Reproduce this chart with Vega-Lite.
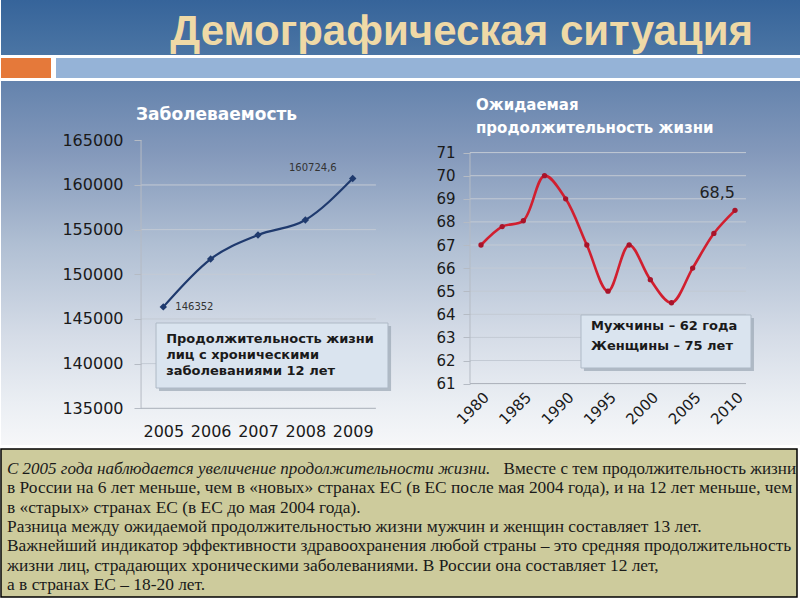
{
  "$schema": "https://vega.github.io/schema/vega-lite/v6.json",
  "background": "white",
  "padding": 0,
  "spacing": 3,
  "config": {
    "view": {"stroke": null},
    "font": "DejaVu Sans",
    "axis": {"labelOverlap": false},
    "locale": {"number": {"decimal": ",", "thousands": "\u00a0", "grouping": [3], "currency": ["", ""]}}
  },
  "datasets": {
    "incidence": [
      {"year": 2005, "value": 146352},
      {"year": 2006, "value": 151710},
      {"year": 2007, "value": 154400},
      {"year": 2008, "value": 156080},
      {"year": 2009, "value": 160724.6}
    ],
    "life": [
      {"year": 1980, "value": 67.0},
      {"year": 1982.5, "value": 67.8},
      {"year": 1985, "value": 68.05},
      {"year": 1987.5, "value": 70.0},
      {"year": 1990, "value": 69.0},
      {"year": 1992.5, "value": 67.0},
      {"year": 1995, "value": 65.0},
      {"year": 1997.5, "value": 67.0},
      {"year": 2000, "value": 65.5},
      {"year": 2002.5, "value": 64.5},
      {"year": 2005, "value": 66.0},
      {"year": 2007.5, "value": 67.5},
      {"year": 2010, "value": 68.5}
    ],
    "incidenceGrid": [{"g": 140000}, {"g": 145000}, {"g": 150000}, {"g": 155000}, {"g": 160000}],
    "lifeGrid": [{"g": 62}, {"g": 63}, {"g": 64}, {"g": 65}, {"g": 66}, {"g": 67}, {"g": 68}, {"g": 69}, {"g": 70}, {"g": 71}],
    "heading": [{"heading": "Демографическая ситуация"}],
    "titleLeft": [{"title": "Заболеваемость"}],
    "titleRight": [{"title": "Ожидаемая\nпродолжительность жизни"}],
    "noteLeft": [{"note": "Продолжительность жизни\nлиц с хроническими\nзаболеваниями 12 лет"}],
    "noteRight": [{"note": "Мужчины – 62 года\nЖенщины – 75 лет"}],
    "summary": [
      {"line": 1, "part": "lead", "text": "С 2005 года наблюдается увеличение продолжительности жизни."},
      {"line": 1, "part": "tail", "text": "Вместе с тем продолжительность жизни"},
      {"line": 2, "part": "body", "text": "в России на 6 лет меньше, чем в «новых» странах ЕС (в ЕС после мая 2004 года), и на 12 лет меньше, чем"},
      {"line": 3, "part": "body", "text": "в «старых» странах ЕС (в ЕС до мая 2004 года)."},
      {"line": 4, "part": "body", "text": "Разница между ожидаемой продолжительностью жизни мужчин и женщин составляет 13 лет."},
      {"line": 5, "part": "body", "text": "Важнейший индикатор эффективности здравоохранения любой страны – это средняя продолжительность"},
      {"line": 6, "part": "body", "text": "жизни лиц, страдающих хроническими заболеваниями. В России она составляет 12 лет,"},
      {"line": 7, "part": "body", "text": "а в странах ЕС – 18-20 лет."}
    ]
  },
  "vconcat": [
    {
      "width": 800,
      "height": 55,
      "view": {"fill": {"gradient": "linear", "x1": 0, "y1": 0, "x2": 0, "y2": 1, "stops": [{"offset": 0, "color": "#36649A"}, {"offset": 1, "color": "#4B75A4"}]}},
      "data": {"name": "heading"},
      "mark": {"type": "text", "align": "right", "baseline": "alphabetic", "dx": -48, "dy": 17, "fontSize": 42, "font": "Liberation Sans", "fontWeight": "bold", "color": "#EFD9A6"},
      "encoding": {
        "x": {"value": "width"},
        "text": {"field": "heading", "type": "nominal"}
      }
    },
    {
      "spacing": 5,
      "hconcat": [
        {
          "width": 50, "height": 20,
          "view": {"fill": "#E5793A"},
          "data": {"values": [{}]},
          "mark": {"type": "text", "text": ""},
          "encoding": {}
        },
        {
          "width": 745, "height": 20,
          "view": {"fill": "#95B3D7"},
          "data": {"values": [{}]},
          "mark": {"type": "text", "text": ""},
          "encoding": {}
        }
      ]
    },
    {
      "spacing": 0,
      "hconcat": [
        {
          "width": 400,
          "height": 364,
          "view": {"fill": {"gradient": "linear", "x1": 0, "y1": 0, "x2": 0, "y2": 1, "stops": [{"offset": 0, "color": "#6483AD"}, {"offset": 0.2, "color": "#8499BB"}, {"offset": 0.45, "color": "#B0BFD3"}, {"offset": 0.7, "color": "#D5DCE7"}, {"offset": 0.88, "color": "#EAEEF3"}, {"offset": 1, "color": "#F6F7F9"}]}},
          "layer": [
            {
              "data": {"name": "incidenceGrid"},
              "mark": {"type": "rule", "color": "#C3CAD4", "strokeWidth": 1},
              "encoding": {
                "y": {"field": "g", "type": "quantitative", "scale": {"domain": [130892, 171638], "nice": false, "zero": false},
                  "axis": {"values": [135000, 140000, 145000, 150000, 155000, 160000, 165000], "format": "d", "offset": -140, "domain": false, "grid": false, "tickSize": 7, "tickColor": "#B5BBC4", "labelPadding": 11, "labelFontSize": 16, "labelColor": "#1A1A1A", "labelOverlap": false, "labelFlush": false, "title": null}},
                "x": {"datum": 2004.53, "type": "quantitative", "scale": {"domain": [2001.572, 2010.02], "nice": false, "zero": false},
                  "axis": {"values": [2005, 2006, 2007, 2008, 2009], "format": "d", "offset": -36.7, "domain": false, "ticks": false, "grid": false, "labelPadding": 15, "labelFontSize": 16, "labelColor": "#1A1A1A", "labelOverlap": false, "labelFlush": false, "title": null}},
                "x2": {"datum": 2009.49}
              }
            },
            {
              "data": {"values": [{}]},
              "mark": {"type": "rule", "color": "#A9AFB8", "strokeWidth": 1},
              "encoding": {
                "y": {"datum": 135000, "type": "quantitative"},
                "x": {"datum": 2004.53, "type": "quantitative"},
                "x2": {"datum": 2009.49}
              }
            },
            {
              "data": {"values": [{}]},
              "mark": {"type": "rule", "color": "#B5BBC4", "strokeWidth": 1},
              "encoding": {
                "x": {"datum": 2004.53, "type": "quantitative"},
                "y": {"datum": 135000, "type": "quantitative"},
                "y2": {"datum": 165000}
              }
            },
            {
              "data": {"name": "titleLeft"},
              "mark": {"type": "text", "align": "left", "baseline": "middle", "fontSize": 17, "fontWeight": "bold", "color": "white"},
              "encoding": {
                "x": {"datum": 2004.423, "type": "quantitative"},
                "y": {"datum": 167832, "type": "quantitative"},
                "text": {"field": "title", "type": "nominal"}
              }
            },
            {
              "data": {"name": "noteLeft"},
              "mark": {"type": "rect", "color": "#9AA6B4", "opacity": 0.7},
              "encoding": {
                "x": {"datum": 2004.91, "type": "quantitative"},
                "x2": {"datum": 2009.81},
                "y": {"datum": 144210, "type": "quantitative"},
                "y2": {"datum": 136930}
              }
            },
            {
              "data": {"name": "noteLeft"},
              "mark": {"type": "rect", "fill": "#DAE4EF", "stroke": "#AEB9C6", "strokeWidth": 1},
              "encoding": {
                "x": {"datum": 2004.846, "type": "quantitative"},
                "x2": {"datum": 2009.745},
                "y": {"datum": 144548, "type": "quantitative"},
                "y2": {"datum": 137272}
              }
            },
            {
              "data": {"name": "noteLeft"},
              "mark": {"type": "text", "align": "left", "baseline": "top", "lineBreak": "\n", "lineHeight": 16, "fontSize": 13, "fontWeight": "bold", "color": "#1A1A1A"},
              "encoding": {
                "x": {"datum": 2005.06, "type": "quantitative"},
                "y": {"datum": 143429, "type": "quantitative"},
                "text": {"field": "note", "type": "nominal"}
              }
            },
            {
              "data": {"name": "incidence"},
              "mark": {"type": "line", "color": "#1F3A6E", "strokeWidth": 2.2, "interpolate": "monotone"},
              "encoding": {
                "x": {"field": "year", "type": "quantitative"},
                "y": {"field": "value", "type": "quantitative"}
              }
            },
            {
              "data": {"name": "incidence"},
              "mark": {"type": "point", "shape": "diamond", "filled": true, "size": 55, "color": "#1F3A6E", "opacity": 1},
              "encoding": {
                "x": {"field": "year", "type": "quantitative"},
                "y": {"field": "value", "type": "quantitative"}
              }
            },
            {
              "data": {"name": "incidence"},
              "transform": [{"filter": "datum.year == 2005"}],
              "mark": {"type": "text", "align": "left", "baseline": "middle", "dx": 12, "fontSize": 10, "color": "#333333"},
              "encoding": {
                "x": {"field": "year", "type": "quantitative"},
                "y": {"field": "value", "type": "quantitative"},
                "text": {"field": "value", "type": "quantitative", "format": ".1~f"}
              }
            },
            {
              "data": {"name": "incidence"},
              "transform": [{"filter": "datum.year == 2009"}],
              "mark": {"type": "text", "align": "right", "baseline": "middle", "dx": -16, "dy": -10, "fontSize": 10, "color": "#333333"},
              "encoding": {
                "x": {"field": "year", "type": "quantitative"},
                "y": {"field": "value", "type": "quantitative"},
                "text": {"field": "value", "type": "quantitative", "format": ".1~f"}
              }
            }
          ]
        },
        {
          "width": 400,
          "height": 364,
          "view": {"fill": {"gradient": "linear", "x1": 0, "y1": 0, "x2": 0, "y2": 1, "stops": [{"offset": 0, "color": "#6483AD"}, {"offset": 0.2, "color": "#8499BB"}, {"offset": 0.45, "color": "#B0BFD3"}, {"offset": 0.7, "color": "#D5DCE7"}, {"offset": 0.88, "color": "#EAEEF3"}, {"offset": 1, "color": "#F6F7F9"}]}},
          "layer": [
            {
              "data": {"name": "lifeGrid"},
              "mark": {"type": "rule", "color": "#C3CAD4", "strokeWidth": 1},
              "encoding": {
                "y": {"field": "g", "type": "quantitative", "scale": {"domain": [58.342, 74.10], "nice": false, "zero": false},
                  "axis": {"values": [61, 62, 63, 64, 65, 66, 67, 68, 69, 70, 71], "tickCount": 11, "format": "d", "offset": -69, "domain": false, "grid": false, "tickSize": 7, "tickColor": "#B5BBC4", "labelPadding": 8, "labelFontSize": 15, "labelColor": "#1A1A1A", "labelOverlap": false, "labelFlush": false, "title": null}},
                "x": {"datum": 1978.70, "type": "quantitative", "scale": {"domain": [1970.551, 2017.795], "nice": false, "zero": false},
                  "axis": {"values": [1980, 1985, 1990, 1995, 2000, 2005, 2010], "format": "d", "offset": -61.4, "domain": false, "ticks": false, "grid": false, "labelAngle": -45, "labelPadding": 6, "labelFontSize": 15, "labelColor": "#1A1A1A", "labelOverlap": false, "labelFlush": false, "title": null}},
                "x2": {"datum": 2011.30}
              }
            },
            {
              "data": {"values": [{}]},
              "mark": {"type": "rule", "color": "#A9AFB8", "strokeWidth": 1},
              "encoding": {
                "y": {"datum": 61, "type": "quantitative"},
                "x": {"datum": 1978.70, "type": "quantitative"},
                "x2": {"datum": 2011.30}
              }
            },
            {
              "data": {"values": [{}]},
              "mark": {"type": "rule", "color": "#B5BBC4", "strokeWidth": 1},
              "encoding": {
                "x": {"datum": 1978.70, "type": "quantitative"},
                "y": {"datum": 61, "type": "quantitative"},
                "y2": {"datum": 71}
              }
            },
            {
              "data": {"name": "titleRight"},
              "mark": {"type": "text", "align": "left", "baseline": "middle", "lineBreak": "\n", "lineHeight": 23, "fontSize": 15, "fontWeight": "bold", "color": "white"},
              "encoding": {
                "x": {"datum": 1979.409, "type": "quantitative"},
                "y": {"datum": 73.061, "type": "quantitative"},
                "text": {"field": "title", "type": "nominal"}
              }
            },
            {
              "data": {"name": "noteRight"},
              "mark": {"type": "rect", "color": "#9AA6B4", "opacity": 0.7},
              "encoding": {
                "x": {"datum": 1992.16, "type": "quantitative"},
                "x2": {"datum": 2012.24},
                "y": {"datum": 63.84, "type": "quantitative"},
                "y2": {"datum": 61.546}
              }
            },
            {
              "data": {"name": "noteRight"},
              "mark": {"type": "rect", "fill": "#DAE4EF", "stroke": "#AEB9C6", "strokeWidth": 1},
              "encoding": {
                "x": {"datum": 1991.81, "type": "quantitative"},
                "x2": {"datum": 2011.89},
                "y": {"datum": 63.97, "type": "quantitative"},
                "y2": {"datum": 61.676}
              }
            },
            {
              "data": {"name": "noteRight"},
              "mark": {"type": "text", "align": "left", "baseline": "top", "lineBreak": "\n", "lineHeight": 20, "fontSize": 13, "fontWeight": "bold", "color": "#1A1A1A"},
              "encoding": {
                "x": {"datum": 1992.99, "type": "quantitative"},
                "y": {"datum": 63.754, "type": "quantitative"},
                "text": {"field": "note", "type": "nominal"}
              }
            },
            {
              "data": {"name": "life"},
              "mark": {"type": "line", "color": "#D11F2F", "strokeWidth": 2.6, "interpolate": "catmull-rom"},
              "encoding": {
                "x": {"field": "year", "type": "quantitative"},
                "y": {"field": "value", "type": "quantitative",
                  "axis": {"values": [61, 62, 63, 64, 65, 66, 67, 68, 69, 70, 71], "tickCount": 11, "format": "d", "offset": -69, "domain": false, "grid": false, "tickSize": 7, "tickColor": "#B5BBC4", "labelPadding": 8, "labelFontSize": 15, "labelColor": "#1A1A1A", "labelOverlap": false, "labelFlush": false, "title": null}}
              }
            },
            {
              "data": {"name": "life"},
              "mark": {"type": "point", "shape": "circle", "filled": true, "size": 28, "color": "#A8142A", "opacity": 1},
              "encoding": {
                "x": {"field": "year", "type": "quantitative"},
                "y": {"field": "value", "type": "quantitative"}
              }
            },
            {
              "data": {"name": "life"},
              "transform": [{"filter": "datum.year == 2010"}],
              "mark": {"type": "text", "align": "right", "baseline": "alphabetic", "dx": 0, "dy": -12, "fontSize": 16, "color": "#222222"},
              "encoding": {
                "x": {"field": "year", "type": "quantitative"},
                "y": {"field": "value", "type": "quantitative"},
                "text": {"field": "value", "type": "quantitative", "format": ".1~f"}
              }
            }
          ]
        }
      ]
    },
    {
      "width": 796,
      "height": 148,
      "view": {"fill": "#CDCB9C", "stroke": "#000000", "strokeWidth": 1.5},
      "data": {"name": "summary"},
      "layer": [
        {
          "transform": [{"filter": "datum.part == 'lead'"}],
          "mark": {"type": "text", "align": "left", "baseline": "middle", "dx": 6, "fontSize": 17, "font": "Liberation Sans Narrow", "fontStyle": "italic", "color": "#1A1A1A"},
          "encoding": {
            "x": {"value": 0},
            "y": {"field": "line", "type": "quantitative", "scale": {"domain": [-0.0347, 7.622], "reverse": true, "nice": false, "zero": false}, "axis": null},
            "text": {"field": "text", "type": "nominal"}
          }
        },
        {
          "transform": [{"filter": "datum.part == 'tail'"}],
          "mark": {"type": "text", "align": "right", "baseline": "middle", "dx": -1, "fontSize": 17, "font": "Liberation Sans Narrow", "color": "#1A1A1A"},
          "encoding": {
            "x": {"value": "width"},
            "y": {"field": "line", "type": "quantitative"},
            "text": {"field": "text", "type": "nominal"}
          }
        },
        {
          "transform": [{"filter": "datum.part == 'body'"}],
          "mark": {"type": "text", "align": "left", "baseline": "middle", "dx": 6, "fontSize": 17.4, "font": "Liberation Sans Narrow", "color": "#1A1A1A"},
          "encoding": {
            "x": {"value": 0},
            "y": {"field": "line", "type": "quantitative"},
            "text": {"field": "text", "type": "nominal"}
          }
        }
      ]
    }
  ]
}
